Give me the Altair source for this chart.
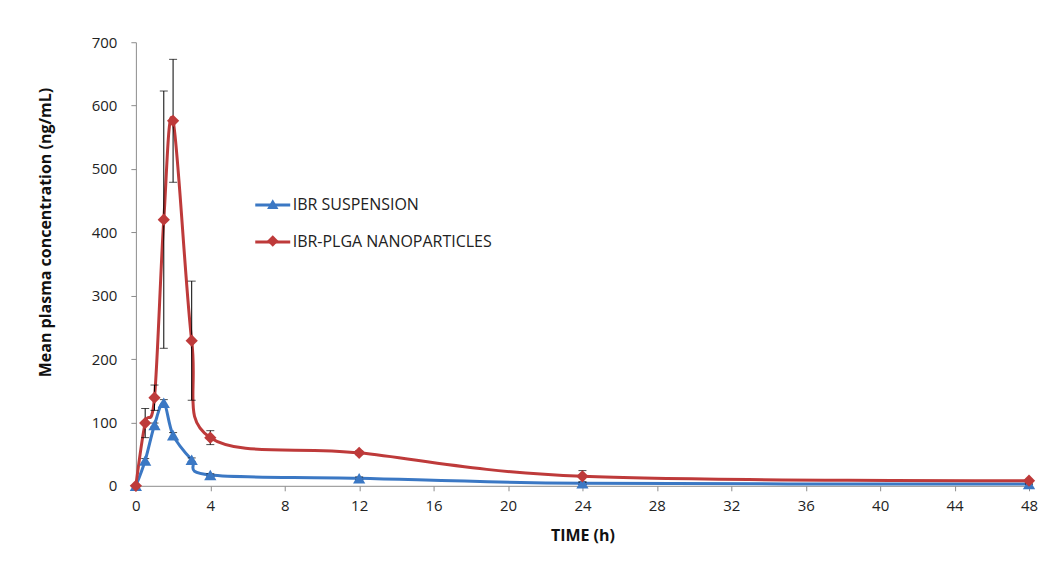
import altair as alt
import pandas as pd

time_h = [0, 0.5, 1, 1.5, 2, 3, 4, 12, 24, 48]
suspension = [0, 40, 96, 131, 80, 41, 17, 12, 4, 3]
suspension_sd = [0, 3, 3, 5, 4, 3, 2, 2, 2, 1]
nano = [0, 99, 139, 420, 576, 229, 76, 52, 15, 8]
nano_sd = [0, 23, 20, 203, 97, 94, 11, 3, 9, 2]
series_names = ["IBR SUSPENSION", "IBR-PLGA NANOPARTICLES"]
colors = ["#3B78C4", "#BE3A3A"]
x_ticks = list(range(0, 49, 4))

rows = []
for name, vals, sds in [(series_names[0], suspension, suspension_sd),
                        (series_names[1], nano, nano_sd)]:
    for t, v, s in zip(time_h, vals, sds):
        rows.append({"time": t, "conc": v, "lo": v - s, "hi": v + s, "series": name})
df = pd.DataFrame(rows)

FONT = "Open Sans"
x = alt.X("time:Q", scale=alt.Scale(domain=[0, 48], nice=False),
          axis=alt.Axis(values=x_ticks, title="TIME (h)", grid=False, labelFlush=False))
y = alt.Y("conc:Q", scale=alt.Scale(domain=[0, 700], nice=False),
          axis=alt.Axis(values=list(range(0, 701, 100)),
                        title="Mean plasma concentration (ng/mL)", grid=False,
                        titleY=190))

base = alt.Chart(df)

line = base.mark_line(interpolate="cardinal", strokeWidth=3).encode(
    x=x, y=y,
    color=alt.Color("series:N",
                    scale=alt.Scale(domain=series_names, range=colors),
                    legend=alt.Legend(title=None, orient="none", legendX=118, legendY=144,
                                      symbolType="stroke", symbolSize=1225,
                                      symbolStrokeWidth=3, rowPadding=10,
                                      labelFontSize=16, labelFont=FONT, labelLimit=0,
                                      labelColor="#222", labelOffset=1, padding=0)),
    detail="series:N",
)

err = base.mark_rule(color="black", strokeWidth=1).encode(
    x="time:Q", y="lo:Q", y2="hi:Q")
cap_hi = base.mark_tick(color="black", orient="horizontal", size=8, thickness=1).encode(
    x="time:Q", y="hi:Q")
cap_lo = base.mark_tick(color="black", orient="horizontal", size=8, thickness=1).encode(
    x="time:Q", y="lo:Q")

pt_legend = alt.Legend(title=None, orient="none", legendX=130, legendY=155,
                       symbolSize=130, rowPadding=20, labelExpr="''", labelLimit=0,
                       labelFontSize=14, labelFont=FONT, padding=0, symbolOpacity=1)
points = base.mark_point(filled=True, opacity=1, size=150).encode(
    x="time:Q", y="conc:Q",
    color=alt.Color("series:N",
                    scale=alt.Scale(domain=series_names, range=colors),
                    legend=pt_legend),
    shape=alt.Shape("series:N",
                    scale=alt.Scale(domain=series_names, range=["triangle-up", "diamond"]),
                    legend=pt_legend),
)

frame_left = base.mark_rule(color="#d9d9d9", strokeWidth=1).encode(
    x=alt.value(-130), y=alt.value(-36), y2=alt.value(540))
frame_top = base.mark_rule(color="#d9d9d9", strokeWidth=1).encode(
    x=alt.value(-130), x2=alt.value(915), y=alt.value(-36))

chart = alt.layer(frame_left, frame_top, line, err, cap_hi, cap_lo, points).resolve_scale(
    color="independent", shape="independent"
).properties(
    width=894, height=444,
    autosize=alt.AutoSizeParams(type="none"),
    padding={"left": 128, "top": 34, "right": 10, "bottom": 60},
    background="white",
).configure_view(stroke=None).configure_axis(
    domainColor="#8c8c8c", tickColor="#8c8c8c", tickSize=5,
    labelFont=FONT, labelFontSize=15, labelColor="#222",
    titleFont=FONT, titleFontSize=16, titleColor="#111", titleFontWeight="bold",
).configure_axisX(labelPadding=8, titlePadding=14).configure_axisY(
    labelPadding=14, titlePadding=38)

chart.save("out.html", embed_options={"renderer": "svg", "actions": False})
